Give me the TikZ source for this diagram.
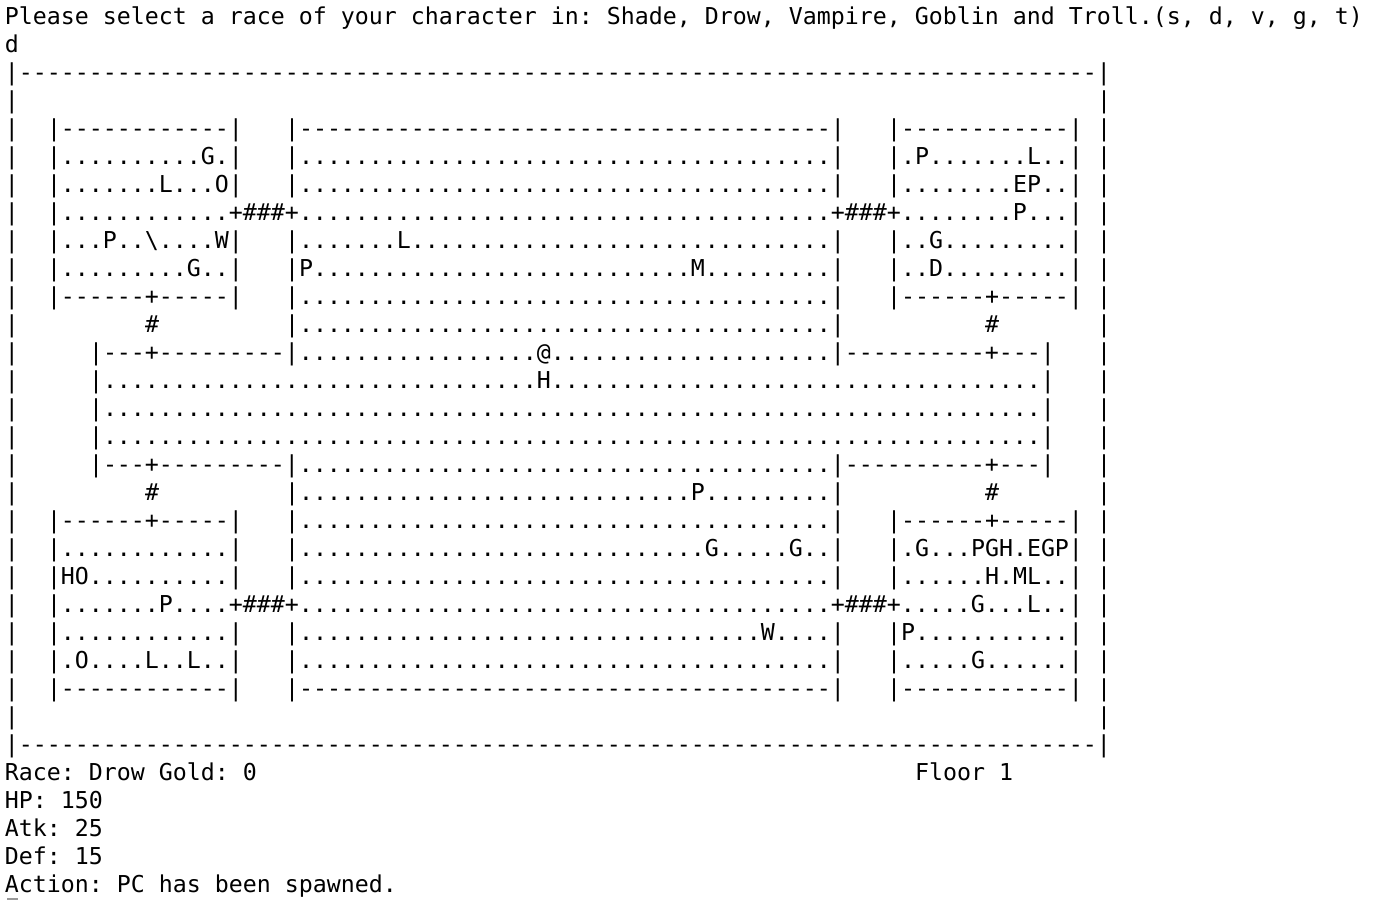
\documentclass[tikz,border=0pt]{standalone}
\usepackage{fontspec}
\setmonofont{DejaVu Sans Mono}
\ExplSyntaxOn
\cs_new:Npn \rpt #1#2 { \prg_replicate:nn {#1} {#2} }
\ExplSyntaxOff
\tikzset{
  txt/.style={anchor=base west, inner sep=0pt, outer sep=0pt, text=black,
    font=\ttfamily\fontsize{23.254pt}{28pt}\selectfont\frenchspacing}
}
\newcommand\putseg[4]{\node[txt] (#1) at ({5+14*#2},{24+28*(#3-1)}) {#4};}
\begin{document}
\begin{tikzpicture}[x=1pt,y=-1pt]
\useasboundingbox[fill=white] (0,0) rectangle (1378,900);
% header
\putseg{t1}{0}{1}{Please select a race of your character in: Shade, Drow, Vampire, Goblin and Troll.(s, d, v, g, t)}
\putseg{t2}{0}{2}{d}
% map frame
\putseg{m1}{0}{3}{|\rpt{77}{-}|}
\foreach \r in {4,...,26}{
  \node[txt] (wl\r) at (5,{24+28*(\r-1)}) {|};
  \node[txt] (wr\r) at ({5+14*78},{24+28*(\r-1)}) {|};
}
\putseg{m25}{0}{27}{|\rpt{77}{-}|}
% row 3
\putseg{a3}{3}{5}{|\rpt{12}{-}|}
\putseg{b3}{20}{5}{|\rpt{38}{-}|}
\putseg{c3}{63}{5}{|\rpt{12}{-}|}
% row 4
\putseg{a4}{3}{6}{|\rpt{10}{.}G.|}
\putseg{b4}{20}{6}{|\rpt{38}{.}|}
\putseg{c4}{63}{6}{|.P\rpt{7}{.}L..|}
% row 5
\putseg{a5}{3}{7}{|\rpt{7}{.}L...O|}
\putseg{b5}{20}{7}{|\rpt{38}{.}|}
\putseg{c5}{63}{7}{|\rpt{8}{.}EP..|}
% row 6
\putseg{a6}{3}{8}{|\rpt{12}{.}+\#\#\#+\rpt{38}{.}+\#\#\#+\rpt{8}{.}P...|}
% row 7
\putseg{a7}{3}{9}{|...P..\textbackslash....W|}
\putseg{b7}{20}{9}{|\rpt{7}{.}L\rpt{30}{.}|}
\putseg{c7}{63}{9}{|..G\rpt{9}{.}|}
% row 8
\putseg{a8}{3}{10}{|\rpt{9}{.}G..|}
\putseg{b8}{20}{10}{|P\rpt{27}{.}M\rpt{9}{.}|}
\putseg{c8}{63}{10}{|..D\rpt{9}{.}|}
% row 9
\putseg{a9}{3}{11}{|\rpt{6}{-}+\rpt{5}{-}|}
\putseg{b9}{20}{11}{|\rpt{38}{.}|}
\putseg{c9}{63}{11}{|\rpt{6}{-}+\rpt{5}{-}|}
% row 10
\putseg{a10}{10}{12}{\#}
\putseg{b10}{20}{12}{|\rpt{38}{.}|}
\putseg{c10}{70}{12}{\#}
% rows 11-15
\putseg{a11}{6}{13}{|---+\rpt{9}{-}|\rpt{17}{.}@\rpt{20}{.}|\rpt{10}{-}+---|}
\putseg{a12}{6}{14}{|\rpt{31}{.}H\rpt{35}{.}|}
\putseg{a13}{6}{15}{|\rpt{67}{.}|}
\putseg{a14}{6}{16}{|\rpt{67}{.}|}
\putseg{a15}{6}{17}{|---+\rpt{9}{-}|\rpt{38}{.}|\rpt{10}{-}+---|}
% row 16
\putseg{a16}{10}{18}{\#}
\putseg{b16}{20}{18}{|\rpt{28}{.}P\rpt{9}{.}|}
\putseg{c16}{70}{18}{\#}
% row 17
\putseg{a17}{3}{19}{|\rpt{6}{-}+\rpt{5}{-}|}
\putseg{b17}{20}{19}{|\rpt{38}{.}|}
\putseg{c17}{63}{19}{|\rpt{6}{-}+\rpt{5}{-}|}
% row 18
\putseg{a18}{3}{20}{|\rpt{12}{.}|}
\putseg{b18}{20}{20}{|\rpt{29}{.}G.....G..|}
\putseg{c18}{63}{20}{|.G...PGH.EGP|}
% row 19
\putseg{a19}{3}{21}{|HO\rpt{10}{.}|}
\putseg{b19}{20}{21}{|\rpt{38}{.}|}
\putseg{c19}{63}{21}{|......H.ML..|}
% row 20
\putseg{a20}{3}{22}{|.......P....+\#\#\#+\rpt{38}{.}+\#\#\#+.....G...L..|}
% row 21
\putseg{a21}{3}{23}{|\rpt{12}{.}|}
\putseg{b21}{20}{23}{|\rpt{33}{.}W....|}
\putseg{c21}{63}{23}{|P\rpt{11}{.}|}
% row 22
\putseg{a22}{3}{24}{|.O....L..L..|}
\putseg{b22}{20}{24}{|\rpt{38}{.}|}
\putseg{c22}{63}{24}{|.....G......|}
% row 23
\putseg{a23}{3}{25}{|\rpt{12}{-}|}
\putseg{b23}{20}{25}{|\rpt{38}{-}|}
\putseg{c23}{63}{25}{|\rpt{12}{-}|}
% status
\putseg{s1}{0}{28}{Race: Drow Gold: 0}
\putseg{s1f}{65}{28}{Floor 1}
\putseg{s2}{0}{29}{HP: 150}
\putseg{s3}{0}{30}{Atk: 25}
\putseg{s4}{0}{31}{Def: 15}
\putseg{s5}{0}{32}{Action: PC has been spawned.}
% cursor
\fill[black!40] (7,897.5) rectangle (18,900);
\end{tikzpicture}
\end{document}
